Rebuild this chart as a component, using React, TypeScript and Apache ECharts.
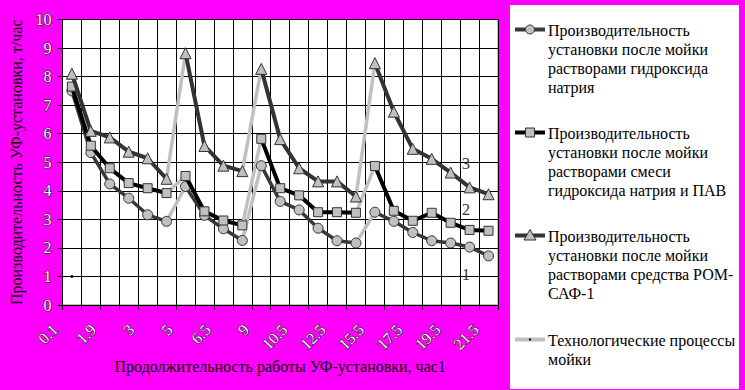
import React, { useEffect, useRef } from 'react';
import * as echarts from 'echarts';

// Tick labels shown on every other category (hours of operation)
const tickLabels = ['0.1', '1.9', '3', '5', '6.5', '9', '10.5', '12.5', '15.5', '17.5', '19.5', '21.5'];
const categories: string[] = Array.from({ length: 23 }, (_, i) => (i % 2 === 0 ? tickLabels[i / 2] : ''));

const seriesNames = [
  'Производительность\nустановки после мойки\nрастворами гидроксида\nнатрия',
  'Производительность\nустановки после мойки\nрастворами смеси\nгидроксида натрия и ПАВ',
  'Производительность\nустановки после мойки\nрастворами средства РОМ-\nСАФ-1',
  'Технологические процессы\nмойки',
];

// Series 1: NaOH
const naohValues = [7.5, 5.34, 4.24, 3.74, 3.16, 2.93, 4.15, 3.14, 2.67, 2.26, 4.88, 3.63, 3.33, 2.69, 2.25, 2.17, 3.25, 2.93, 2.54, 2.25, 2.17, 2.03, 1.72];
// Series 2: NaOH + surfactant
const naohSurfValues = [7.65, 5.58, 4.79, 4.27, 4.09, 3.92, 4.52, 3.28, 2.96, 2.79, 5.82, 4.09, 3.84, 3.25, 3.25, 3.23, 4.87, 3.3, 2.95, 3.23, 2.88, 2.63, 2.6];
// Series 3: ROM-SAF-1
const romSafValues = [8.1, 6.1, 5.87, 5.37, 5.14, 4.42, 8.82, 5.57, 4.88, 4.69, 8.27, 5.81, 4.79, 4.33, 4.33, 3.8, 8.47, 6.77, 5.47, 5.12, 4.64, 4.12, 3.88];
// Washing steps happen between category i and i+1
const washAfter = [5, 9, 15];
// Isolated point of the washing-process series
const washPoint: (number | null)[] = [1, ...Array(22).fill(null)];

const curveLabels = ['1', '2', '3'];

function runs(values: number[]): (number | null)[][] {
  const out: (number | null)[][] = [];
  let start = 0;
  const bounds = [...washAfter, values.length - 1];
  for (const b of bounds) {
    const s = start;
    out.push(values.map((v, i) => (i >= s && i <= b ? v : null)));
    start = b + 1;
  }
  return out;
}

function washSegs(values: number[]): (number | null)[][] {
  return washAfter.map((b) => values.map((v, i) => (i === b || i === b + 1 ? v : null)));
}

const FONT = '"Liberation Serif", "Times New Roman", serif';

export default function App() {
  const ref = useRef<HTMLDivElement>(null);
  useEffect(() => {
    if (!ref.current) return;
    const chart = echarts.init(ref.current, undefined, { renderer: 'svg' });

    const mainDefs = [
      { values: naohValues, color: '#383838', width: 3.5, symbol: 'circle', size: 10 },
      { values: naohSurfValues, color: '#000000', width: 4, symbol: 'rect', size: 9 },
      { values: romSafValues, color: '#333333', width: 4, symbol: 'triangle', size: 11 },
    ];

    const series: any[] = [];
    const grayBase = {
      type: 'line',
      name: seriesNames[3],
      showAllSymbol: true,
      symbol: 'circle',
      symbolSize: 3,
      itemStyle: { color: '#111' },
      lineStyle: { color: '#C0C0C0', width: 3.5 },
      connectNulls: false,
      z: 1,
    };
    mainDefs.forEach((d) => {
      washSegs(d.values).forEach((data) => series.push({ ...grayBase, data }));
    });
    series.push({ ...grayBase, data: washPoint });

    mainDefs.forEach((d, k) => {
      runs(d.values).forEach((data) =>
        series.push({
          type: 'line',
          name: seriesNames[k],
          data,
          showAllSymbol: true,
          symbol: d.symbol,
          symbolSize: d.size,
          connectNulls: false,
          lineStyle: { color: d.color, width: d.width },
          itemStyle: { color: '#C0C0C0', borderColor: '#333', borderWidth: 1 },
          z: 2 + k,
        })
      );
    });

    const legendTops = [20.5, 123.5, 226.5, 330.5];
    const legendGraphics: any[] = [
      { type: 'rect', shape: { x: 510, y: 5, width: 229, height: 384 }, style: { fill: '#fff' }, z: 0 },
    ];
    const iconDefs = [
      { color: '#383838', w: 4, kind: 'circle' },
      { color: '#000', w: 4, kind: 'rect' },
      { color: '#333', w: 4, kind: 'triangle' },
      { color: '#C0C0C0', w: 4, kind: 'dot' },
    ];
    iconDefs.forEach((d, i) => {
      const cy = legendTops[i] + 9;
      legendGraphics.push({ type: 'line', shape: { x1: 515, y1: cy, x2: 545, y2: cy }, style: { stroke: d.color, lineWidth: d.w }, z: 1 });
      const mstyle = { fill: '#C0C0C0', stroke: '#333', lineWidth: 1 };
      if (d.kind === 'circle') legendGraphics.push({ type: 'circle', shape: { cx: 530, cy, r: 4.5 }, style: mstyle, z: 2 });
      if (d.kind === 'rect') legendGraphics.push({ type: 'rect', shape: { x: 525.5, y: cy - 4.5, width: 9, height: 9 }, style: mstyle, z: 2 });
      if (d.kind === 'triangle')
        legendGraphics.push({ type: 'polygon', shape: { points: [[530, cy - 6], [536, cy + 4.5], [524, cy + 4.5]] }, style: mstyle, z: 2 });
      if (d.kind === 'dot') legendGraphics.push({ type: 'circle', shape: { cx: 530, cy, r: 1.2 }, style: { fill: '#111' }, z: 2 });
      legendGraphics.push({
        type: 'text',
        x: 548,
        y: legendTops[i],
        style: { text: seriesNames[i], fontSize: 16, fontFamily: FONT, fill: '#000', lineHeight: 19, verticalAlign: 'top' },
        z: 2,
      });
    });

    const curveLabelPos = [
      [466, 274],
      [466, 209],
      [466, 163],
    ];
    curveLabels.forEach((t, i) => {
      legendGraphics.push({
        type: 'text',
        x: curveLabelPos[i][0],
        y: curveLabelPos[i][1],
        style: { text: t, fontSize: 16, fontFamily: FONT, fill: '#333', align: 'center', verticalAlign: 'middle' },
        z: 10,
      });
    });

    const outlined = {
      fontSize: 16,
      fontFamily: FONT,
      color: '#ffffff',
      textBorderColor: '#000',
      textBorderWidth: 1,
    };

    chart.setOption({
      animation: false,
      backgroundColor: '#FF00FF',
      grid: [
        {
          left: 58,
          top: 19.5,
          right: 247,
          bottom: 85,
          show: true,
          backgroundColor: '#ffffff',
          borderColor: '#808080',
          borderWidth: 1,
        },
        // label-only grid, shifted left so the rotated labels sit like the original
        { left: 45.5, top: 19.5, right: 259.5, bottom: 85, show: false },
      ],
      xAxis: [
        {
          type: 'category',
          gridIndex: 0,
          data: categories,
          boundaryGap: true,
          name: 'Продолжительность работы УФ-установки, час1',
          nameLocation: 'middle',
          nameGap: 53,
          nameTextStyle: { fontSize: 16, fontFamily: FONT, color: '#000' },
          axisLine: { show: true, lineStyle: { color: '#000', width: 1 } },
          axisTick: { show: true, interval: 0, length: 5, lineStyle: { color: '#000' } },
          splitLine: { show: true, interval: 0, lineStyle: { color: '#000', width: 1 } },
          axisLabel: { show: false },
        },
        {
          type: 'category',
          gridIndex: 1,
          data: categories,
          boundaryGap: true,
          axisLine: { show: false },
          axisTick: { show: false },
          splitLine: { show: false },
          axisLabel: { interval: 0, rotate: 45, margin: 22, ...outlined },
        },
      ],
      yAxis: [
        {
          type: 'value',
          gridIndex: 0,
          min: 0,
          max: 10,
          interval: 1,
          name: 'Производительность УФ-установки, т/час',
          nameLocation: 'middle',
          nameGap: 29,
          nameTextStyle: { fontSize: 16, fontFamily: FONT, color: '#000' },
          axisLine: { show: true, lineStyle: { color: '#000', width: 1 } },
          axisTick: { show: true, length: 5, lineStyle: { color: '#000' } },
          splitLine: { show: true, lineStyle: { color: '#000', width: 1 } },
          axisLabel: { margin: 11, ...outlined },
        },
        { type: 'value', gridIndex: 1, min: 0, max: 10, show: false },
      ],
      graphic: legendGraphics,
      series,
    });
    return () => chart.dispose();
  }, []);
  return <div ref={ref} style={{ position: 'fixed', left: 0, top: 0, width: 745, height: 390 }} />;
}
